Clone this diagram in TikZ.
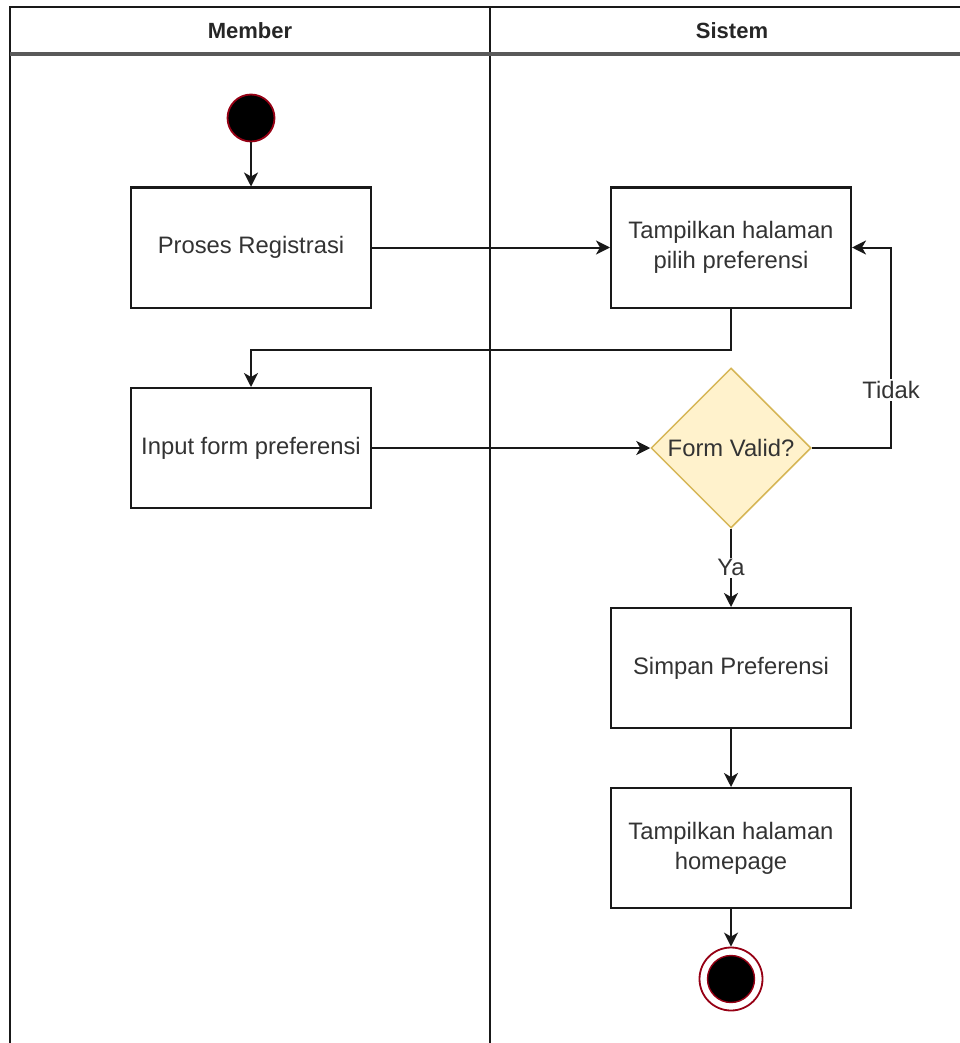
\documentclass[tikz,border=0pt]{standalone}
\usepackage{fontspec}
\setmainfont{Liberation Sans}
\usetikzlibrary{shapes.geometric,arrows.meta}
\begin{document}
\begin{tikzpicture}[x=1pt,y=-1pt,
  txt/.style={font=\fontsize{23.8}{30}\selectfont,text=black!80},
  box/.style={txt,draw=black!90,line width=2pt,minimum width=240pt,minimum height=120pt,align=center,inner sep=2pt},
  dia/.style={diamond,draw={rgb,255:red,214;green,182;blue,86},fill={rgb,255:red,255;green,242;blue,204},line width=1.5pt,minimum width=160pt,minimum height=160pt,inner sep=0pt,aspect=1},
  conn/.style={line width=2pt,draw=black!90,-{Stealth[length=14pt,width=14pt,inset=4pt]}},
  lab/.style={txt,fill=white,inner sep=2pt},
  lane/.style={line width=2pt,draw=black!90},
  head/.style={font=\fontsize{22}{26}\selectfont\bfseries,text=black!85}
]
\useasboundingbox (0,0) rectangle (959,1043);
% swimlane frame
\draw[lane] (10,1050) -- (10,7) -- (965,7);
\draw[lane] (490,7) -- (490,1050);
\draw[line width=3.5pt,draw=black!65] (10,54) -- (965,54);
\node[head] (hm) at (250,31) {Member};
\node[head] (hs) at (732,31) {Sistem};
% nodes
\node[circle,fill=black,draw={rgb,255:red,150;green,0;blue,20},line width=1.8pt,minimum size=47pt,inner sep=0pt] (start) at (251,118) {};
\node[box] (reg) at (251,247.5) {Proses Registrasi};
\node[box] (tamp) at (731,247.5) {Tampilkan halaman\\pilih preferensi};
\node[box] (inp) at (251,448) {Input form preferensi};
\node[dia,label={[txt]center:Form Valid?}] (valid) at (731,448) {};
\node[box] (simp) at (731,668) {Simpan Preferensi};
\node[box] (home) at (731,848) {Tampilkan halaman\\homepage};
\node[circle,draw={rgb,255:red,150;green,0;blue,20},line width=1.8pt,minimum size=63pt,inner sep=0pt] (end) at (731,979) {};
\node[circle,fill=black,draw={rgb,255:red,150;green,0;blue,20},line width=1.4pt,minimum size=47pt,inner sep=0pt] (endin) at (end.center) {};
\coordinate (tid) at (891,448);
% connectors
\draw[conn] (start) -- (reg);
\draw[conn] (reg) -- (tamp);
\draw[conn] (tamp.south) -- ++(0,41) -| (inp.north);
\draw[conn] (inp) -- (valid);
\draw[conn] (valid.east) -- (tid) |- (tamp.east) node[lab,pos=0.145] (tidak) {Tidak};
\draw[conn] (valid.south) -- (simp.north) node[lab,midway] (ya) {Ya};
\draw[conn] (simp) -- (home);
\draw[conn] (home) -- (end);
\end{tikzpicture}
\end{document}
